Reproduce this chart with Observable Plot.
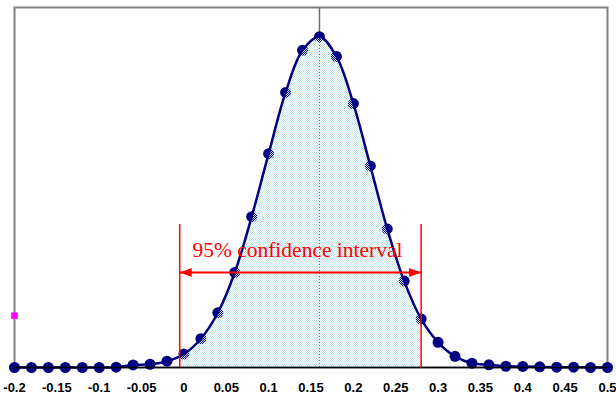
<!DOCTYPE html>
<html>
<head>
<meta charset="utf-8">
<script src="https://cdn.jsdelivr.net/npm/d3@7"></script>
<script src="https://cdn.jsdelivr.net/npm/@observablehq/plot@0.6"></script>
<style>
  html, body { margin: 0; padding: 0; background: #fff; }
</style>
</head>
<body>
<div id="chart"></div>
<script>
// Sample positions (x) and curve heights (relative density, y)
const xs = [-0.2, -0.18, -0.16, -0.14, -0.12, -0.1, -0.08, -0.06, -0.04, -0.02,
            0, 0.02, 0.04, 0.06, 0.08, 0.1, 0.12, 0.14, 0.16, 0.18,
            0.2, 0.22, 0.24, 0.26, 0.28, 0.3, 0.32, 0.34, 0.36, 0.38,
            0.4, 0.42, 0.44, 0.46, 0.48, 0.5];
const ys = [0, 0, 0, 0, 0, 0, 0.001, 0.007, 0.009, 0.0175,
            0.0375, 0.08, 0.152, 0.264, 0.419, 0.594, 0.764, 0.881, 0.919, 0.864,
            0.733, 0.56, 0.385, 0.24, 0.135, 0.07, 0.031, 0.012, 0.0075, 0.0035,
            0.003, 0.002, 0.001, 0.001, 0, 0];

const tickLabels = [-0.2, -0.15, -0.1, -0.05, 0, 0.05, 0.1, 0.15, 0.2, 0.25, 0.3, 0.35, 0.4, 0.45, 0.5];

const ciLow = -0.005, ciHigh = 0.28;   // 95% confidence interval bounds
const mean = 0.16, peak = 0.919;
const ciTop = 0.397, arrowY = 0.264;
const labelText = "95% confidence interval";
const labelX = 0.134, labelY = 0.308;
const markerY = 0.144;

const data = xs.map((x, i) => ({x, y: ys[i]}));

const headL = {draw(c) { c.moveTo(0, 0); c.lineTo(12, -4.5); c.lineTo(12, 4.5); c.closePath(); }};
const headR = {draw(c) { c.moveTo(0, 0); c.lineTo(-12, -4.5); c.lineTo(-12, 4.5); c.closePath(); }};

const fmt = d => String(+d.toFixed(2));

const chart = Plot.plot({
  width: 616,
  height: 400,
  marginLeft: 14,
  marginRight: 9,
  marginTop: 7,
  marginBottom: 33,
  x: {domain: [-0.2, 0.5]},
  y: {domain: [0, 1], axis: null},
  style: {background: "#fff"},
  marks: [
    Plot.axisX({ticks: tickLabels, tickFormat: fmt, tickSize: 0, tickPadding: 15,
      fontSize: 13, fontWeight: "bold", fontFamily: "Liberation Sans, Arial, sans-serif", fill: "black",
      style: {letterSpacing: "0.4px"}}),
    Plot.frame({stroke: "#808080", strokeWidth: 2}),
    Plot.ruleX([mean], {y1: peak, y2: 1, stroke: "#707070", strokeWidth: 1.5}),
    Plot.dot(data, {x: "x", y: "y", r: 5.5, fill: "#000080"}),
    Plot.areaY(data, {x: "x", y: "y", curve: "catmull-rom", fill: "url(#hatch)"}),
    Plot.ruleX([mean], {y1: 0, y2: peak, stroke: "#707070", strokeWidth: 1, strokeDasharray: "1,2"}),
    Plot.line(data, {x: "x", y: "y", curve: "catmull-rom", stroke: "#000080", strokeWidth: 2.5}),
    Plot.ruleY([0], {stroke: "black", strokeWidth: 1.5}),
    Plot.ruleX([ciLow, ciHigh], {y1: 0, y2: ciTop, stroke: "#ff0000", strokeWidth: 1.5}),
    Plot.link([{x1: ciLow, x2: ciHigh, y: arrowY}], {x1: "x1", x2: "x2", y1: "y", y2: "y", stroke: "#ff0000", strokeWidth: 2}),
    Plot.dot([{x: ciLow, y: arrowY}], {x: "x", y: "y", symbol: headL, fill: "#ff0000", stroke: "none"}),
    Plot.dot([{x: ciHigh, y: arrowY}], {x: "x", y: "y", symbol: headR, fill: "#ff0000", stroke: "none"}),
    Plot.text([{x: labelX, y: labelY, t: labelText}], {x: "x", y: "y", text: "t", textAnchor: "middle", lineAnchor: "bottom",
      fontFamily: "Liberation Serif, Times New Roman, serif", fontSize: 21.5, fill: "#ff0000"}),
    Plot.dot([{x: -0.2, y: markerY}], {x: "x", y: "y", symbol: "square", r: 3.7, fill: "#ff00ff", stroke: "none"})
  ]
});

document.getElementById("chart").appendChild(chart);

// hatch pattern + clip to the confidence interval
const svg = d3.select(chart);
const xScale = chart.scale("x");
const defs = svg.insert("defs", ":first-child");
const pat = defs.append("pattern").attr("id", "hatch").attr("patternUnits", "userSpaceOnUse")
  .attr("width", 2).attr("height", 2);
pat.append("rect").attr("x", 0).attr("y", 0).attr("width", 1).attr("height", 1).attr("fill", "#c6e6e8");
pat.append("rect").attr("x", 1).attr("y", 1).attr("width", 1).attr("height", 1).attr("fill", "#c6e6e8");
const x0 = xScale.apply(ciLow), x1 = xScale.apply(ciHigh);
defs.append("clipPath").attr("id", "ciclip").append("rect")
  .attr("x", x0).attr("y", 0).attr("width", x1 - x0).attr("height", 400);
svg.select('g[aria-label="area"]').attr("clip-path", "url(#ciclip)");
</script>
</body>
</html>
